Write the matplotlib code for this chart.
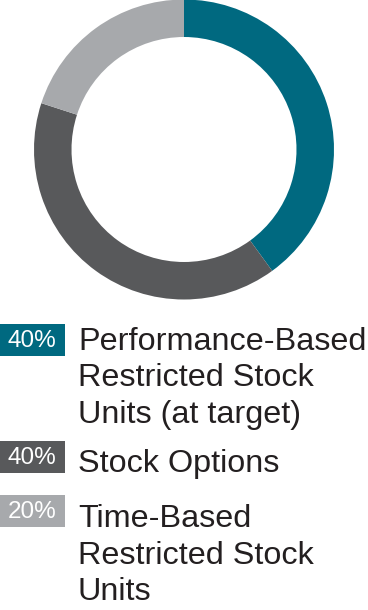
import matplotlib
matplotlib.use("Agg")
import matplotlib.pyplot as plt
from matplotlib.patches import Rectangle

# data
shares = [40, 40, 20]
pct_labels = ["40%", "40%", "20%"]
names = ["Performance-Based\nRestricted Stock\nUnits (at target)",
         "Stock Options",
         "Time-Based\nRestricted Stock\nUnits"]
colors = ["#006980", "#58595b", "#a7a9ac"]

W, H = 368, 610
plt.rcParams['font.family'] = ['Liberation Sans', 'DejaVu Sans']

fig = plt.figure(figsize=(W / 100, H / 100), dpi=100)

# donut
cx, cy, r = 184, 149.5, 150
ax = fig.add_axes([(cx - r) / W, 1 - (cy + r) / H, 2 * r / W, 2 * r / H])
ax.pie(shares, colors=colors, startangle=90, counterclock=False,
       radius=1, wedgeprops=dict(width=0.25, linewidth=0))
ax.set_xlim(-1, 1)
ax.set_ylim(-1, 1)
ax.axis('off')

# legend rows: badge top (px) and first baseline (px)
box_tops = [324, 441, 495]
first_base = [350, 472, 527]
line_gap = 36.5
box_w, box_h = 65, 32

for i in range(len(shares)):
    top = box_tops[i]
    fig.patches.append(Rectangle((0, 1 - (top + box_h) / H), box_w / W, box_h / H,
                                 transform=fig.transFigure, facecolor=colors[i],
                                 edgecolor='none'))
    fig.text(32 / W, 1 - (top + box_h / 2 + 1) / H, pct_labels[i], color='white',
             fontsize=17.5, ha='center', va='center')
    for j, line in enumerate(names[i].split("\n")):
        y = first_base[i] + j * line_gap
        fig.text(78 / W, 1 - y / H, line, color='#231f20', fontsize=23.3,
                 ha='left', va='baseline')

fig.savefig("out.png", dpi=100)
